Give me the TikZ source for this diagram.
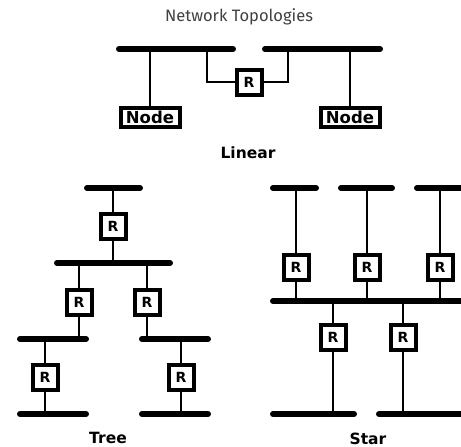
\documentclass[tikz,border=0pt]{standalone}
\usepackage{fontspec}
\setmainfont{DejaVu Sans}
\newfontfamily\titlefont{Fira Sans}
\begin{document}
\begin{tikzpicture}[x=1pt,y=-1pt,
  bus/.style={line width=6pt, line cap=round},
  wire/.style={line width=2.3pt},
  rbox/.style={draw, line width=4pt, fill=white, minimum size=25pt, inner sep=0pt, font=\bfseries\fontsize{14}{14}\selectfont},
  nodebox/.style={draw, line width=4pt, fill=white, minimum width=59pt, minimum height=19pt, inner sep=0pt, font=\bfseries\fontsize{16.5}{16.5}\selectfont},
  caption/.style={font=\bfseries\fontsize{15.5}{15.5}\selectfont}]
\useasboundingbox (0,0) rectangle (461,447);
\clip (0,0) rectangle (461,447);
% title
\node[font=\titlefont\fontsize{16.5}{16.5}\selectfont, text=black!75] (title) at (239,17) {Network Topologies};
% ---------- Linear ----------
\coordinate (lbA) at (119,49); \coordinate (lbB) at (233,49);
\coordinate (rbA) at (265,49); \coordinate (rbB) at (380,49);
\draw[bus] (lbA) -- (lbB);
\draw[bus] (rbA) -- (rbB);
\node[nodebox] (n1) at (150,117) {Node};
\node[nodebox] (n2) at (350,117) {Node};
\node[rbox] (lr) at (249,82) {R};
\draw[wire] (n1) -- (n1 |- lbA);
\draw[wire] (n2) -- (n2 |- rbA);
\coordinate (lc1) at (207,49); \coordinate (lc2) at (288,49);
\draw[wire] (lc1) |- (lr.west);
\draw[wire] (lr.east) -| (lc2);
\node[caption] (linear) at (248,153) {Linear};
% ---------- Tree ----------
\coordinate (t1a) at (87,188); \coordinate (t1b) at (140,188);
\coordinate (t2a) at (57,263); \coordinate (t2b) at (170,263);
\coordinate (t3a) at (20,339); \coordinate (t3b) at (86,339);
\coordinate (t3c) at (142,339); \coordinate (t3d) at (208,339);
\coordinate (t4a) at (20,414); \coordinate (t4b) at (86,414);
\coordinate (t4c) at (142,414); \coordinate (t4d) at (208,414);
\foreach \a/\b in {t1a/t1b,t2a/t2b,t3a/t3b,t3c/t3d,t4a/t4b,t4c/t4d} \draw[bus] (\a) -- (\b);
\node[rbox] (tr1) at (113,226) {R};
\node[rbox] (tr2) at (79,302) {R};
\node[rbox] (tr3) at (147,302) {R};
\node[rbox] (tr4) at (45,377) {R};
\node[rbox] (tr5) at (181,377) {R};
\draw[wire] (tr1) -- (tr1 |- t1a); \draw[wire] (tr1) -- (tr1 |- t2a);
\draw[wire] (tr2) -- (tr2 |- t2a); \draw[wire] (tr2) -- (tr2 |- t3a);
\draw[wire] (tr3) -- (tr3 |- t2a); \draw[wire] (tr3) -- (tr3 |- t3a);
\draw[wire] (tr4) -- (tr4 |- t3a); \draw[wire] (tr4) -- (tr4 |- t4a);
\draw[wire] (tr5) -- (tr5 |- t3a); \draw[wire] (tr5) -- (tr5 |- t4a);
\node[caption] (tree) at (108,438) {Tree};
% ---------- Star ----------
\coordinate (s1a) at (273,188); \coordinate (s1b) at (316,188);
\coordinate (s2a) at (341,188); \coordinate (s2b) at (392,188);
\coordinate (s3a) at (417,188); \coordinate (s3b) at (475,188);
\coordinate (smA) at (273,301); \coordinate (smB) at (475,301);
\coordinate (sbA) at (273,414); \coordinate (sbB) at (354,414);
\coordinate (sbC) at (379,414); \coordinate (sbD) at (475,414);
\foreach \a/\b in {s1a/s1b,s2a/s2b,s3a/s3b,smA/smB,sbA/sbB,sbC/sbD} \draw[bus] (\a) -- (\b);
\node[rbox] (sr1) at (296,267) {R};
\node[rbox] (sr2) at (367,267) {R};
\node[rbox] (sr3) at (440,267) {R};
\node[rbox] (sr4) at (333,337) {R};
\node[rbox] (sr5) at (403,337) {R};
\draw[wire] (sr1) -- (sr1 |- s1a); \draw[wire] (sr1) -- (sr1 |- smA);
\draw[wire] (sr2) -- (sr2 |- s1a); \draw[wire] (sr2) -- (sr2 |- smA);
\draw[wire] (sr3) -- (sr3 |- s1a); \draw[wire] (sr3) -- (sr3 |- smA);
\draw[wire] (sr4) -- (sr4 |- smA); \draw[wire] (sr4) -- (sr4 |- sbA);
\draw[wire] (sr5) -- (sr5 |- smA); \draw[wire] (sr5) -- (sr5 |- sbA);
\node[caption] (star) at (368,439) {Star};
\end{tikzpicture}
\end{document}
